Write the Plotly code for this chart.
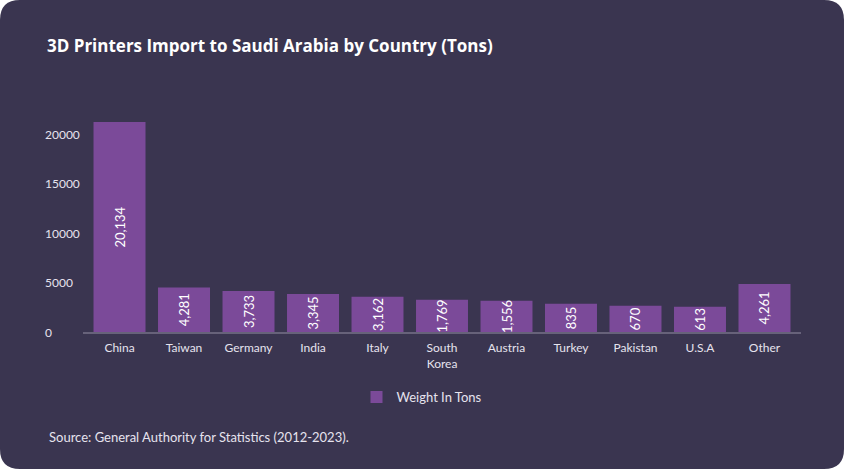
import plotly.graph_objects as go

countries = ["China", "Taiwan", "Germany", "India", "Italy", "South<br>Korea",
             "Austria", "Turkey", "Pakistan", "U.S.A", "Other"]
bar_heights = [21200, 4500, 4150, 3850, 3550, 3250, 3150, 2850, 2650, 2550, 4850]
value_labels = ["20,134", "4,281", "3,733", "3,345", "3,162", "1,769",
                "1,556", "835", "670", "613", "4,261"]
y_ticks = [0, 5000, 10000, 15000, 20000]
y_tick_text = ["0", "5000", "10000", "15000", "20000"]

W, H = 844, 469
L, R, T, B = 83, 43, 116, 137
pw, ph = W - L - R, H - T - B
FONT = "Lato"
TFONT = "Open Sans"
BG = "#3a3550"
BAR = "#7b4a99"
TXT = "#e6e3ee"


def px_x(x):
    return (x - L) / pw


def px_y(y):
    return (H - B - y) / ph


# rounded card path in paper coords
r = 20
path = (f"M {px_x(r)},{px_y(0)} L {px_x(W - r)},{px_y(0)} "
        f"Q {px_x(W)},{px_y(0)} {px_x(W)},{px_y(r)} "
        f"L {px_x(W)},{px_y(H - r)} Q {px_x(W)},{px_y(H)} {px_x(W - r)},{px_y(H)} "
        f"L {px_x(r)},{px_y(H)} Q {px_x(0)},{px_y(H)} {px_x(0)},{px_y(H - r)} "
        f"L {px_x(0)},{px_y(r)} Q {px_x(0)},{px_y(0)} {px_x(r)},{px_y(0)} Z")

fig = go.Figure()
fig.add_trace(go.Bar(
    x=countries, y=bar_heights, name="Weight In Tons",
    marker=dict(color=BAR, line=dict(width=0)),
    text=value_labels, textposition="inside", insidetextanchor="middle",
    textangle=-90, textfont=dict(family=FONT, size=13, color="#ffffff"),
    hoverinfo="skip",
))

annotations = []
for v, t in zip(y_ticks, y_tick_text):
    annotations.append(dict(x=px_x(43), xref="paper", y=v, yref="y", text=t,
                            showarrow=False, xanchor="left", yanchor="middle",
                            font=dict(family=FONT, size=12, color=TXT)))
annotations.append(dict(x=px_x(47), xref="paper", y=px_y(437), yref="paper",
                        text="Source: General Authority for Statistics (2012-2023).",
                        showarrow=False, xanchor="left", yanchor="middle",
                        font=dict(family=FONT, size=13, color=TXT)))

fig.update_layout(
    width=W, height=H,
    margin=dict(l=L, r=R, t=T, b=B),
    paper_bgcolor="#ffffff", plot_bgcolor="rgba(0,0,0,0)",
    shapes=[dict(type="path", path=path, xref="paper", yref="paper",
                 fillcolor=BG, line=dict(width=0), layer="below")],
    title=dict(text="<b>3D Printers Import to Saudi Arabia by Country (Tons)</b>",
               x=47 / W, xanchor="left", xref="container",
               y=1 - 46 / H, yanchor="middle", yref="container",
               font=dict(family=TFONT, size=17, color="#ffffff")),
    bargap=0.194,
    uniformtext=dict(minsize=13, mode="show"),
    xaxis=dict(range=[-0.566, 10.566], showline=True, linecolor="#67627a",
               linewidth=2, showgrid=False, zeroline=False, ticks="",
               ticklabelstandoff=4,
               tickfont=dict(family=FONT, size=12, color=TXT), fixedrange=True),
    yaxis=dict(range=[0, ph / 0.0099], showgrid=False, zeroline=False,
               showticklabels=False, ticks="", fixedrange=True),
    showlegend=True,
    legend=dict(orientation="h", x=0.5, xanchor="center", xref="container",
                y=1 - 397 / H, yanchor="middle", yref="container",
                bgcolor="rgba(0,0,0,0)",
                font=dict(family=FONT, size=13, color=TXT)),
    annotations=annotations,
)

fig.write_html("out.html")
